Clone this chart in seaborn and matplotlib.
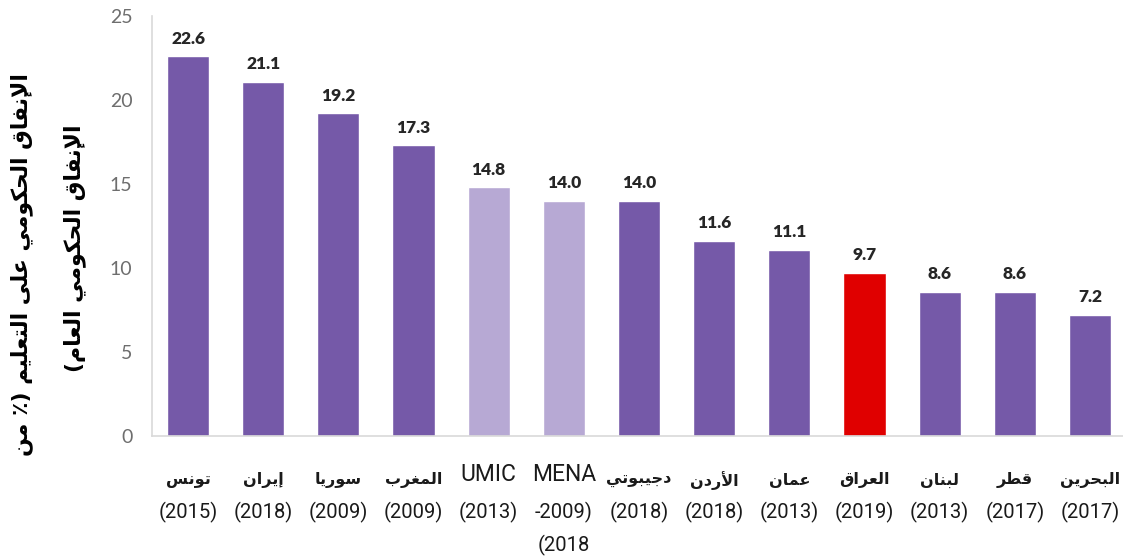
import matplotlib
matplotlib.use("Agg")
import matplotlib.pyplot as plt
import seaborn as sns
import pandas as pd

# data
names = ['تونس', 'إيران', 'سوريا', 'المغرب', 'UMIC', 'MENA', 'دجيبوتي',
         'الأردن', 'عمان', 'العراق', 'لبنان', 'قطر', 'البحرين']
years = ['(2015)', '(2018)', '(2009)', '(2009)', '(2013)', '-2009)\n(2018',
         '(2018)', '(2018)', '(2013)', '(2019)', '(2013)', '(2017)', '(2017)']
values = [22.6, 21.1, 19.2, 17.3, 14.8, 14.0, 14.0, 11.6, 11.1, 9.7, 8.6, 8.6, 7.2]
groups = ['country', 'country', 'country', 'country', 'region', 'region', 'country',
          'country', 'country', 'iraq', 'country', 'country', 'country']
ylabel_lines = ['الإنفاق الحكومي على التعليم (٪ من', 'الإنفاق الحكومي العام)']

colors = {'country': '#7559a8', 'region': '#b7a9d4', 'iraq': '#e00000'}

# minimal arabic shaping (matplotlib has no bidi / joining)
# letter -> (isolated form codepoint, joins to next letter)
JOIN = {
    'ب': (0xFE8F, True), 'ت': (0xFE95, True), 'ج': (0xFE9D, True),
    'ح': (0xFEA1, True), 'س': (0xFEB1, True), 'ط': (0xFEC1, True),
    'ع': (0xFEC9, True), 'غ': (0xFECD, True), 'ف': (0xFED1, True),
    'ق': (0xFED5, True), 'ك': (0xFED9, True), 'ل': (0xFEDD, True),
    'م': (0xFEE1, True), 'ن': (0xFEE5, True), 'ي': (0xFEF1, True),
    'ا': (0xFE8D, False), 'أ': (0xFE83, False), 'إ': (0xFE87, False),
    'د': (0xFEA9, False), 'ر': (0xFEAD, False), 'و': (0xFEED, False),
    'ى': (0xFEEF, False), 'لا': (0xFEFB, False), 'لأ': (0xFEF7, False),
    'لإ': (0xFEF9, False),
}
MIRROR = {'(': ')', ')': '('}


def shape_ar(text):
    chars = []
    i = 0
    while i < len(text):
        if text[i] == 'ل' and i + 1 < len(text) and text[i + 1] in 'اأإ':
            chars.append(text[i:i + 2])
            i += 2
        else:
            chars.append(text[i])
            i += 1
    out = []
    for k, c in enumerate(chars):
        if c not in JOIN:
            out.append(MIRROR.get(c, c))
            continue
        base, dual = JOIN[c]
        prev = chars[k - 1] if k > 0 else None
        nxt = chars[k + 1] if k + 1 < len(chars) else None
        jp = prev in JOIN and JOIN[prev][1]
        jn = dual and nxt in JOIN
        out.append(chr(base + (1 if jp else 0) + (2 if jn else 0)))
    return ''.join(reversed(out))


def is_arabic(s):
    return any('\u0600' <= ch <= '\u06ff' for ch in s)


df = pd.DataFrame({'key': [str(i) for i in range(len(names))],
                   'value': values, 'group': groups})

sns.set_style('white')
plt.rcParams['font.family'] = ['Lato', 'DejaVu Sans']

fig = plt.figure(figsize=(11.23, 5.58), dpi=100)
ax = fig.add_axes([152 / 1123, (558 - 436) / 558, 1 - 152 / 1123, 420 / 558])

sns.barplot(data=df, x='key', y='value', hue='group', palette=colors,
            width=0.56, legend=False, dodge=False, saturation=1, ax=ax)

for cont in ax.containers:
    ax.bar_label(cont, fmt='%.1f', padding=7, fontsize=12.5,
                 fontweight='heavy', color='#262626', family=['Lato'])

ax.set_ylim(0, 25)
ax.set_xlim(-0.48, 12.44)
ax.set_yticks([0, 5, 10, 15, 20, 25])
ax.tick_params(axis='y', length=0, pad=14, labelsize=14, labelcolor='#6e6e6e')
ax.tick_params(axis='x', length=0)
ax.set_xticks(range(len(names)))
ax.set_xticklabels([''] * len(names))
ax.set_xlabel('')
ax.set_ylabel('')

for s in ['top', 'right']:
    ax.spines[s].set_visible(False)
for s in ['left', 'bottom']:
    ax.spines[s].set_color('#d9d9d9')
    ax.spines[s].set_linewidth(1.2)

# category labels: name on first row, year below
for i, (n, y) in enumerate(zip(names, years)):
    if is_arabic(n):
        ax.annotate(shape_ar(n), xy=(i, 0), xycoords=('data', 'axes fraction'),
                    xytext=(0, -32), textcoords='offset points',
                    ha='center', va='center', fontsize=11.5, fontweight='bold',
                    family=['DejaVu Sans'], color='#1a1a1a')
    else:
        ax.annotate(n, xy=(i, 0), xycoords=('data', 'axes fraction'),
                    xytext=(0, -28), textcoords='offset points',
                    ha='center', va='center', fontsize=16.5,
                    family=['Roboto'], color='#1a1a1a')
    for j, part in enumerate(y.split('\n')):
        ax.annotate(part, xy=(i, 0), xycoords=('data', 'axes fraction'),
                    xytext=(0, -55 - 23.5 * j), textcoords='offset points',
                    ha='center', va='center', fontsize=14.5,
                    family=['Roboto'], color='#1a1a1a')

# y label, two rotated arabic lines
fig.text(22 / 1123, 1 - 265 / 558, shape_ar(ylabel_lines[0]), rotation=90,
         ha='center', va='center', fontsize=15.8, fontweight='bold',
         family=['DejaVu Sans'], color='black')
fig.text(75 / 1123, 1 - 248 / 558, shape_ar(ylabel_lines[1]), rotation=90,
         ha='center', va='center', fontsize=15.8, fontweight='bold',
         family=['DejaVu Sans'], color='black')

fig.savefig('out.png', dpi=100)
